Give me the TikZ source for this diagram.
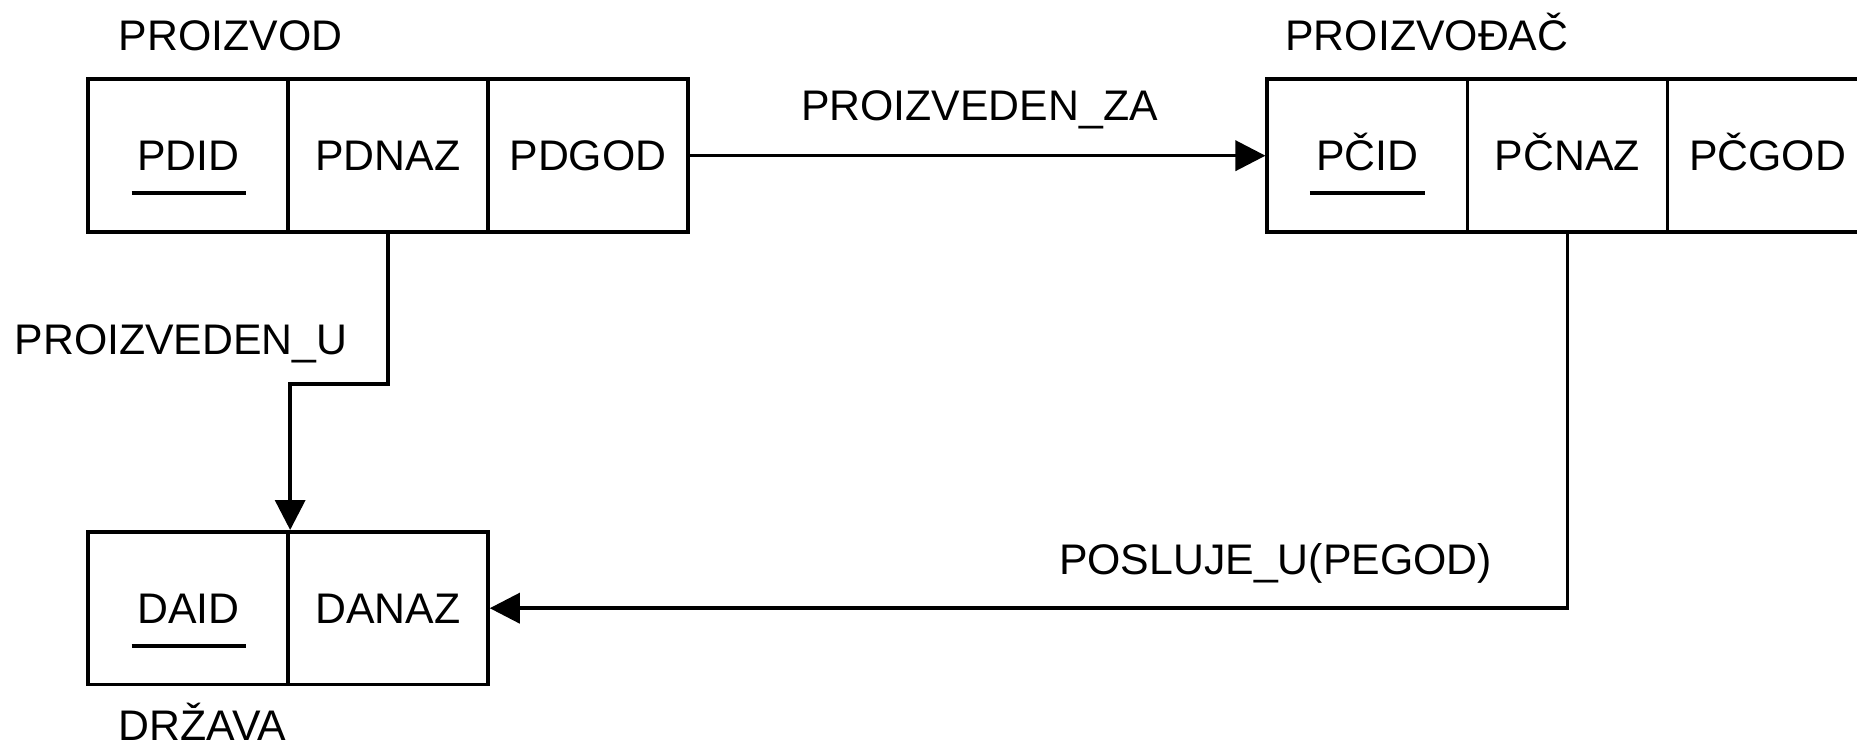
\documentclass[tikz,border=0pt]{standalone}
\usepackage{fontspec}
\setmainfont{Liberation Sans}
\usetikzlibrary{arrows.meta}
\begin{document}
\begin{tikzpicture}[x=0.5pt,y=-0.5pt,
  txt/.style={font=\fontsize{21.4}{25}\selectfont},
  cell/.style={txt, draw, line width=1.8pt, minimum width=100.05pt, minimum height=76.4pt, inner sep=0pt, text height=15.3pt, text depth=0pt},
  lbl/.style={txt, inner sep=0pt},
  conn/.style={line width=1.8pt},
  arr/.style={conn, -{Triangle[length=15pt,width=15pt]}},
  keyline/.style={line width=1.8pt}]
\useasboundingbox (0,0) rectangle (1857,748);
\clip (0,0) rectangle (1857,748);
% PROIZVOD
\node[cell] (pdid)  at (188.3,155.7) {PDID};
\node[cell] (pdnaz) at (387.9,155.7) {PDNAZ};
\node[cell] (pdgod) at (588.0,155.7) {PDGOD};
\draw[keyline] (131.5,193) -- (246.3,193);
\node[lbl, anchor=base west] (tproizvod) at (118.4,51) {PROIZVOD};
% PROIZVODJAC
\node[cell] (pcid)  at (1367.3,155.7) {PČID};
\node[cell] (pcnaz) at (1567.4,155.7) {PČNAZ};
\node[cell] (pcgod) at (1767.5,155.7) {PČGOD};
\draw[keyline] (1309.8,193) -- (1424.7,193);
\node[lbl, anchor=base west] (tproizvodjac) at (1285,51) {PROIZVOĐAČ};
% DRZAVA
\node[cell] (daid)  at (188.3,608.2) {DAID};
\node[cell] (danaz) at (387.9,608.2) {DANAZ};
\draw[keyline] (131.5,646) -- (246.3,646);
\node[lbl, anchor=base west] (tdrzava) at (118.4,740) {DRŽAVA};
% connectors
\draw[arr] (pdgod.east) -- (pcid.west);
\node[lbl, anchor=base] (lza) at (979.4,121) {PROIZVEDEN\_ZA};
\draw[arr] (pdnaz.south) -- ++(0,150.4) -| (daid.north east);
\node[lbl, anchor=base west] (lu) at (14.2,355) {PROIZVEDEN\_U};
\draw[arr] (pcnaz.south) |- (danaz.east);
\node[lbl, anchor=base] (lpos) at (1275.5,574) {POSLUJE\_U(PEGOD)};
\end{tikzpicture}
\end{document}
